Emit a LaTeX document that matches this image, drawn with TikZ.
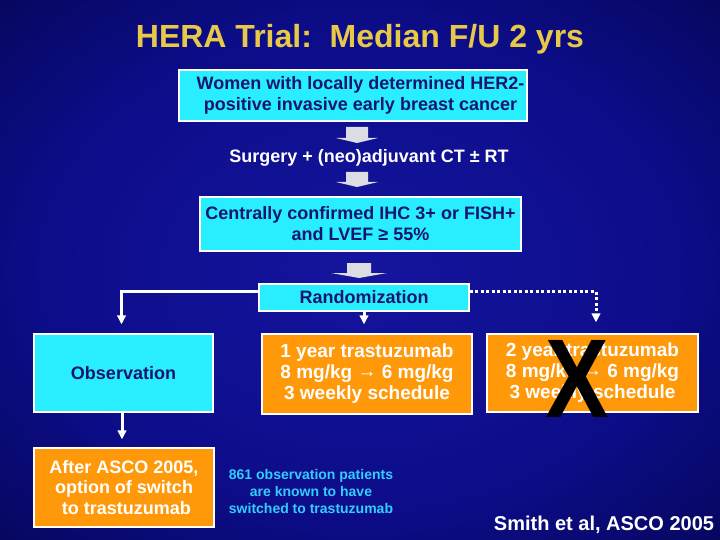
\documentclass[tikz,border=0pt]{standalone}
\usepackage{fontspec}
\setmainfont{Liberation Sans}
\usepackage{tikz}
\usetikzlibrary{positioning}
\usetikzlibrary{arrows.meta}
\definecolor{titlegold}{RGB}{232,200,72}
\definecolor{boxcyan}{RGB}{40,238,255}
\definecolor{boxorange}{RGB}{255,153,10}
\definecolor{navytext}{RGB}{22,22,110}
\definecolor{notecyan}{RGB}{50,205,255}
\definecolor{arrowgray}{RGB}{220,220,228}
\pgfdeclareradialshading{slideglow}{\pgfpoint{0bp}{0bp}}{rgb(0bp)=(0.08,0.08,0.62);rgb(22bp)=(0.05,0.05,0.54);rgb(50bp)=(0,0,0.2)}
\newcommand{\doseto}{\raisebox{1.5pt}{\textrightarrow}}
\tikzset{
  cyanbox/.style={draw=white,line width=1.2pt,fill=boxcyan,text=navytext,align=center,inner sep=0pt,
    font=\fontsize{18}{21}\selectfont\bfseries},
  orangebox/.style={draw=white,line width=1.2pt,fill=boxorange,text=white,align=center,inner sep=0pt,
    font=\fontsize{18}{20.5}\selectfont\bfseries},
  doseline/.style={font=\fontsize{19}{21}\selectfont\bfseries},
  blockarrow/.style={fill=arrowgray},
  flowline/.style={draw=white,line width=3pt,->},
  dotflow/.style={flowline,dash pattern=on 3pt off 2.5pt}
}

\begin{document}
\begin{tikzpicture}[x=1pt,y=-1pt,>={Triangle[width=8.5pt,length=9pt]}]
  \shade[shading=slideglow] (0,0) rectangle (720,540);
  \useasboundingbox (0,0) rectangle (720,540);
  % title
  \node[text=titlegold,font=\fontsize{32}{36}\selectfont\bfseries] (title) at (360,39) {HERA Trial:\ \ Median F/U 2 yrs};
  % eligibility chain
  \node[cyanbox,minimum width=348pt,minimum height=51pt] (women) at (353,95.5)
    {\hspace*{15pt}Women with locally determined HER2-\\\hspace*{15pt}positive invasive early breast cancer};
  \node[text=white,font=\fontsize{18}{20}\selectfont\bfseries] (surgery) at (369,158) {Surgery + (neo)adjuvant CT ± RT};
  \node[cyanbox,minimum width=321pt,minimum height=54pt] (confirm) at (360.5,224)
    {Centrally confirmed IHC 3+ or FISH+\\and LVEF ≥ 55\%};
  \node[cyanbox,minimum width=210pt,minimum height=27pt] (rand) at (364,297.5) {Randomization};
  % block arrows
  \fill[blockarrow,shift={(357,127)}] (-11,0) -- (11,0) -- (11,11) -- (21,11) -- (0,16) -- (-21,11) -- (-11,11) -- cycle;
  \fill[blockarrow,shift={(357,172)}] (-11,0) -- (11,0) -- (11,10) -- (21,10) -- (0,15) -- (-21,10) -- (-11,10) -- cycle;
  \fill[blockarrow,shift={(359,263)}] (-12,0) -- (12,0) -- (12,10) -- (28,10) -- (0,15) -- (-28,10) -- (-12,10) -- cycle;
  % arms
  \node[cyanbox,minimum width=179pt,minimum height=78pt] (obs) at (123.5,373) {Observation};
  \node[orangebox,doseline,minimum width=210pt,minimum height=80pt] (oneyr) at (367,374)
    {1 year trastuzumab\\8 mg/kg \doseto{} 6 mg/kg\\3 weekly schedule};
  \node[orangebox,doseline,minimum width=211pt,minimum height=78pt] (twoyr) at (592.5,373)
    {2 year trastuzumab\\8 mg/kg \doseto{} 6 mg/kg\\3 weekly schedule};
  \node[text=black,font=\fontsize{112}{112}\selectfont\bfseries,xscale=0.85,inner sep=0pt] (cross) at (577,379) {X};
  \node[orangebox,minimum width=180pt,minimum height=79pt] (asco) at (124,487.5)
    {After ASCO 2005,\\option of switch\\\ to trastuzumab};
  \node[text=notecyan,align=center,font=\fontsize{14}{17}\selectfont\bfseries] (note) at (311,491)
    {861 observation patients\\are known to have\\switched to trastuzumab};
  \node[text=white,font=\fontsize{20}{24}\selectfont\bfseries] (smith) at (604,525) {Smith et al, ASCO 2005};
  % connectors
  \draw[flowline] ([yshift=6pt]rand.west) -| ([xshift=-2pt,yshift=9pt]obs.north);
  \draw[flowline] (rand.south) -- ([yshift=9pt]rand.south |- oneyr.north);
  \draw[dotflow] ([yshift=6pt]rand.east) -| ([xshift=3.5pt,yshift=11pt]twoyr.north);
  \draw[flowline] ([xshift=-1.5pt]obs.south) -- ([xshift=-1.5pt,yshift=8pt]obs.south |- asco.north);
\end{tikzpicture}
\end{document}
